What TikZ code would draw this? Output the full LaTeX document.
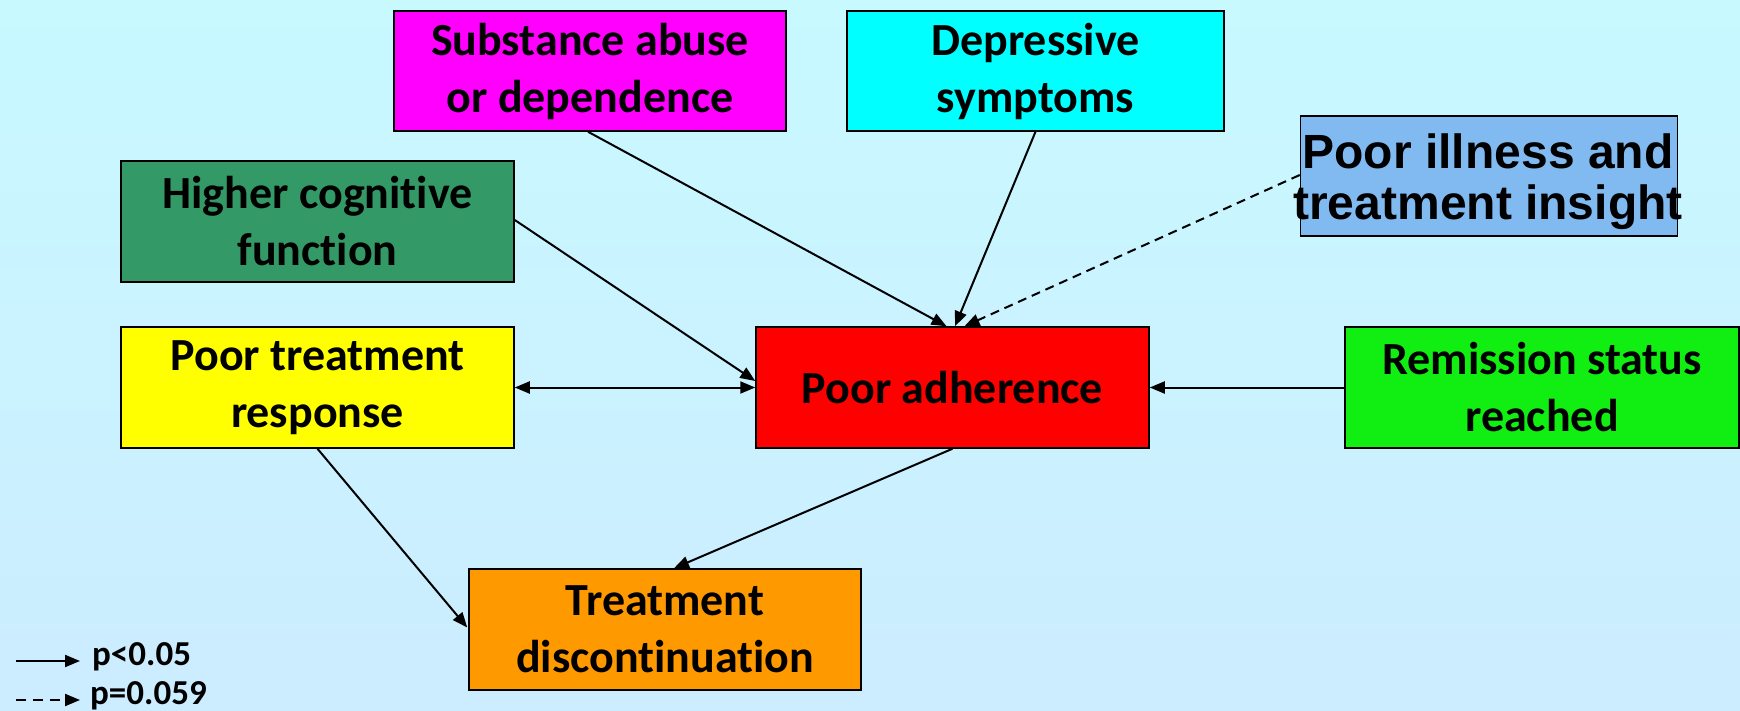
\documentclass[tikz,border=0pt]{standalone}
\usepackage{fontspec}
\setmainfont{Carlito}[Ligatures={NoCommon,NoDiscretionary}]
\newfontfamily\arialfont{Liberation Sans}
\usetikzlibrary{arrows.meta,calc}
\newcommand{\nl}{\kern0pt{}}
\definecolor{bgtop}{RGB}{200,249,255}
\definecolor{bgbot}{RGB}{204,236,255}
\definecolor{cmag}{RGB}{255,0,255}
\definecolor{ccyan}{RGB}{0,255,255}
\definecolor{cins}{RGB}{128,186,240}
\definecolor{ccog}{RGB}{51,153,102}
\definecolor{cyel}{RGB}{255,255,0}
\definecolor{cred}{RGB}{255,0,0}
\definecolor{cgrn}{RGB}{17,238,17}
\definecolor{corg}{RGB}{255,153,0}
\tikzset{
  boxnode/.style={draw=black, line width=1.5pt, rectangle, inner sep=0pt,
    minimum width=393pt, minimum height=121pt, align=center,
    font=\fontsize{46}{57}\selectfont\bfseries},
  conn/.style={line width=2pt, -{Triangle[length=15pt,width=12pt]}},
  dconn/.style={conn, dash pattern=on 9pt off 6pt},
  legtext/.style={anchor=base west, inner sep=0pt, font=\fontsize{35}{40}\selectfont\bfseries}
}
\begin{document}
\begin{tikzpicture}[x=1pt,y=-1pt]
\useasboundingbox (0,0) rectangle (1740,711);
\shade[top color=bgtop, bottom color=bgbot] (0,0) rectangle (1740,711);

\node[boxnode, fill=cmag, minimum width=392pt, minimum height=120pt] (sub) at (590,71) {Substance abuse\\or dependence};
\node[boxnode, fill=ccyan, minimum width=377pt, minimum height=120pt] (dep) at (1035.5,71) {Depressive\\symptoms};
\node[boxnode, fill=cins, minimum width=377pt, minimum height=120pt] (ins) at (1489,176) {};
\node[inner sep=0pt, align=center, font=\arialfont\fontsize{48}{51}\selectfont\bfseries] (inst) at ($(ins.center)+(-1,6)$)
  {\makebox[300pt][c]{Poor illness and}\\\makebox[300pt][c]{treatment insight}};
\node[boxnode, fill=ccog] (cog) at (317.5,221.5) {Higher cognit\nl ive\\funct\nl ion};
\node[boxnode, fill=cyel] (ptr) at (317.5,387.5) {Poor treatment\\response};
\node[boxnode, fill=cred] (adh) at (952.5,387.5) {Poor adherence};
\node[boxnode, fill=cgrn, minimum width=394pt] (rem) at (1542,387.5) {Remission status\\reached};
\node[boxnode, fill=corg, minimum width=392pt] (dis) at (665,629.5) {Treatment\\discont\nl inuat\nl ion};

\draw[conn] ($(sub.south)+(-2,0)$) -- ($(adh.north)+(-6,0)$);
\draw[conn] (dep.south) -- ($(adh.north)+(2.5,0)$);
\draw[dconn] ($(ins.west)+(0,-1)$) -- ($(adh.north)+(12,0)$);
\draw[conn] ($(cog.east)+(0,-1.5)$) -- ($(adh.west)+(0,-6.5)$);
\draw[conn, {Triangle[length=15pt,width=12pt]}-{Triangle[length=15pt,width=12pt]}] (ptr.east) -- (adh.west);
\draw[conn] (rem.west) -- (adh.east);
\draw[conn] (ptr.south) -- ($(dis.west)+(-1,-2)$);
\draw[conn] (adh.south) -- ($(dis.north)+(9,0)$);

\coordinate (l1a) at (16,661);
\coordinate (l1b) at (80,661);
\coordinate (l2a) at (16,700);
\coordinate (l2b) at (80,700);
\draw[conn] (l1a) -- (l1b);
\draw[dconn, dash pattern=on 10pt off 7pt] (l2a) -- (l2b);
\node[legtext] (lt1) at (92,665) {p<0.05};
\node[legtext] (lt2) at (90,704) {p=0.059};
\end{tikzpicture}
\end{document}
